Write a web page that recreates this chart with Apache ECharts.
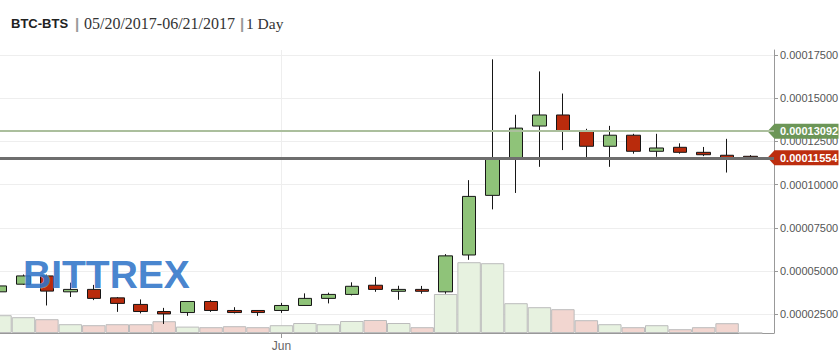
<!DOCTYPE html>
<html>
<head>
<meta charset="utf-8">
<script src="https://cdn.jsdelivr.net/npm/echarts@6/dist/echarts.min.js"></script>
<style>
	html, body { margin: 0; padding: 0; background: #fff; }
	#main { width: 839px; height: 352px; }
</style>
</head>
<body>
<div id="main"></div>
<script>
//日期 (最后一天没有数据)
var dates = ['05/20', '05/21', '05/22', '05/23', '05/24', '05/25', '05/26', '05/27', '05/28', '05/29', '05/30', '05/31',
	'06/01', '06/02', '06/03', '06/04', '06/05', '06/06', '06/07', '06/08', '06/09', '06/10', '06/11', '06/12',
	'06/13', '06/14', '06/15', '06/16', '06/17', '06/18', '06/19', '06/20', '06/21', '06/22'];

var opens = [0.0000380, 0.0000424, 0.0000472, 0.0000380, 0.0000394, 0.0000345, 0.0000307, 0.0000266, 0.0000260, 0.0000324, 0.0000272, 0.0000272,
	0.0000272, 0.0000301, 0.0000342, 0.0000365, 0.0000418, 0.0000383, 0.0000394, 0.0000380, 0.0000593, 0.0000938, 0.0001152, 0.0001339,
	0.0001403, 0.0001311, 0.0001222, 0.0001286, 0.0001193, 0.0001216, 0.0001187, 0.0001170, 0.0001164];
var closes = [0.0000414, 0.0000472, 0.0000384, 0.0000394, 0.0000342, 0.0000313, 0.0000266, 0.0000252, 0.0000324, 0.0000272, 0.0000260, 0.0000260,
	0.0000301, 0.0000342, 0.0000365, 0.0000412, 0.0000394, 0.0000394, 0.0000383, 0.0000588, 0.0000932, 0.0001148, 0.0001327, 0.0001403,
	0.0001311, 0.0001222, 0.0001286, 0.0001193, 0.0001212, 0.0001187, 0.0001173, 0.0001156, 0.00011554];
var lows = [0.0000375, 0.0000420, 0.0000301, 0.0000350, 0.0000332, 0.0000264, 0.0000255, 0.0000194, 0.0000241, 0.0000264, 0.0000255, 0.0000241,
	0.0000258, 0.0000300, 0.0000313, 0.0000359, 0.0000380, 0.0000334, 0.0000369, 0.0000369, 0.0000565, 0.0000857, 0.0000952, 0.0001103,
	0.0001200, 0.0001156, 0.0001103, 0.0001179, 0.0001161, 0.0001179, 0.0001165, 0.0001070, 0.0001150];
var highs = [0.0000420, 0.0000480, 0.0000480, 0.0000433, 0.0000420, 0.0000350, 0.0000336, 0.0000287, 0.0000326, 0.0000332, 0.0000291, 0.0000274,
	0.0000316, 0.0000371, 0.0000375, 0.0000435, 0.0000466, 0.0000415, 0.0000414, 0.0000598, 0.0001026, 0.0001725, 0.0001404, 0.0001655,
	0.0001527, 0.0001323, 0.0001340, 0.0001294, 0.0001294, 0.0001239, 0.0001218, 0.0001265, 0.0001171];
//成交量
var volumes = [8.9, 7.9, 6.9, 4.4, 3.9, 4.4, 4.4, 5.9, 3.2, 2.9, 3.4, 2.9,
	3.9, 5.0, 4.4, 6.0, 6.5, 5.0, 2.9, 19.5, 35.4, 34.9, 14.9, 12.9,
	11.9, 6.4, 4.4, 2.9, 3.9, 1.9, 2.9, 4.9, 0];

var askPrice = 0.00013092;
var lastPrice = closes[closes.length - 1];
var lastDate = dates[dates.length - 1];

var candleData = [];
var volumeData = [];
for (var i = 0; i < opens.length; i++) {
	candleData.push([opens[i], closes[i], lows[i], highs[i]]);
	var up = closes[i] >= opens[i];
	volumeData.push({
		value: volumes[i],
		itemStyle: {
			color: up ? '#e7f2e0' : '#f2d6d0'
		}
	});
}

function isJun(v) {
	return v == '06/01';
}

//右侧价格标签 (零长度的线，只画终点符号)
var tagPath = 'path://M0,7 L7,0 L71,0 L71,14 L7,14 Z';
function priceTag(price, color) {
	return [{
		coord: [lastDate, price],
		symbol: 'none',
		lineStyle: { color: color, width: 1 },
		label: { show: false }
	}, {
		coord: [lastDate, price],
		symbol: tagPath,
		symbolSize: [71, 15],
		symbolRotate: 0,
		symbolOffset: [29, 0]
	}];
}

var myChart = echarts.init(document.getElementById('main'), null, { renderer: 'svg' });

var option = {
	animation: false,
	title: {
		left: 6,
		top: 8,
		text: '{a|BTC-BTS}{s||}{b|05/20/2017-06/21/2017}{s||}{c|1 Day}',
		textStyle: {
			fontWeight: 'normal',
			rich: {
				a: { fontFamily: 'Liberation Sans', fontWeight: 'bold', fontSize: 13, color: '#222', width: 62, lineHeight: 20 },
				s: { fontFamily: 'Liberation Sans', fontWeight: 'bold', fontSize: 15, color: '#999', width: 8, align: 'center', lineHeight: 20 },
				b: { fontFamily: 'Liberation Serif', fontWeight: 'normal', fontSize: 16, color: '#333', width: 157, lineHeight: 20 },
				c: { fontFamily: 'Liberation Serif', fontWeight: 'normal', fontSize: 15.5, color: '#333', lineHeight: 20 }
			}
		}
	},
	//水印
	graphic: [{
		type: 'text',
		x: 23,
		y: 274,
		z: 100,
		silent: true,
		style: {
			text: 'BITTREX',
			font: 'bold 39px "Liberation Sans"',
			verticalAlign: 'middle',
			align: 'left',
			opacity: 0.9,
			fill: '#3175c9',
			stroke: 'rgba(255,255,255,0.5)',
			lineWidth: 1
		}
	}],
	grid: [{
		//K线
		left: 0, right: 65, top: 55, height: 302.5,
		outerBoundsMode: 'none'
	}, {
		//成交量
		left: 0, right: 65, top: 50, height: 283,
		outerBoundsMode: 'none'
	}],
	xAxis: [{
		type: 'category',
		gridIndex: 0,
		data: dates,
		boundaryGap: false,
		show: false
	}, {
		type: 'category',
		gridIndex: 1,
		data: dates,
		boundaryGap: false,
		axisLine: { lineStyle: { color: '#999' } },
		axisTick: {
			length: 5,
			interval: function (i, v) { return isJun(v); },
			lineStyle: { color: '#999' }
		},
		axisLabel: {
			interval: 0,
			margin: 7,
			fontSize: 12,
			color: '#666',
			fontFamily: 'Liberation Sans',
			formatter: function (v) { return isJun(v) ? 'Jun' : ''; }
		},
		splitLine: {
			show: true,
			interval: function (i, v) { return isJun(v); },
			lineStyle: { color: '#eeeeee' }
		}
	}],
	yAxis: [{
		type: 'value',
		gridIndex: 0,
		position: 'right',
		min: 0,
		max: 0.000175,
		interval: 0.000025,
		axisLine: { show: false },
		axisTick: { show: true, length: 4, lineStyle: { color: '#999' } },
		axisLabel: {
			margin: 6,
			fontSize: 11,
			color: '#555',
			fontFamily: 'Liberation Sans',
			showMinLabel: false,
			formatter: function (v) { return v.toFixed(8); }
		},
		splitLine: { lineStyle: { color: '#eeeeee' } }
	}, {
		type: 'value',
		gridIndex: 1,
		position: 'right',
		min: 0,
		max: 141.5,
		axisLine: { show: true, lineStyle: { color: '#999' } },
		axisTick: { show: false },
		axisLabel: { show: false },
		splitLine: { show: false }
	}],
	series: [{
		name: 'Volume',
		type: 'bar',
		xAxisIndex: 1,
		yAxisIndex: 1,
		z: 1,
		barCategoryGap: '0%',
		data: volumeData,
		itemStyle: {
			borderColor: '#bcbcbc',
			borderWidth: 1
		}
	}, {
		name: 'BTC-BTS',
		type: 'candlestick',
		xAxisIndex: 0,
		yAxisIndex: 0,
		z: 3,
		barWidth: 14,
		data: candleData,
		itemStyle: {
			color: '#8fc379',
			color0: '#b92b0c',
			borderColor: '#161616',
			borderColor0: '#161616',
			borderWidth: 1
		},
		markLine: {
			silent: true,
			animation: false,
			precision: 8,
			symbol: ['none', 'none'],
			data: [
				priceTag(askPrice, '#6c9657'),
				priceTag(lastPrice, '#bd2e0f'),
				{
					yAxis: askPrice,
					lineStyle: { color: '#abbf9d', width: 2, type: 'solid' },
					label: { formatter: askPrice.toFixed(8) }
				}, {
					yAxis: lastPrice,
					lineStyle: { color: '#6e6e6e', width: 3, type: 'solid' },
					label: { formatter: lastPrice.toFixed(8) }
				}
			],
			label: {
				position: 'end',
				distance: 6,
				color: '#fff',
				fontWeight: 'bold',
				fontSize: 11,
				fontFamily: 'Liberation Sans'
			}
		}
	}]
};

myChart.setOption(option);
</script>
</body>
</html>
